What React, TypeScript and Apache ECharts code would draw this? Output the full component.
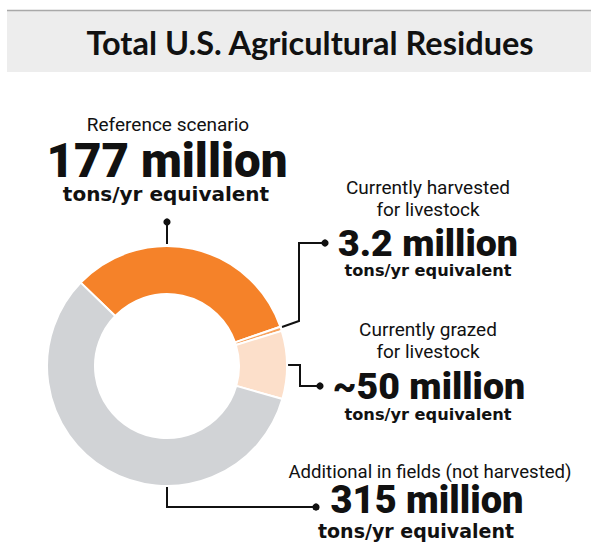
import React, { useEffect, useRef } from "react";
import * as echarts from "echarts";

const categories = [
  "Reference scenario",
  "Currently harvested for livestock",
  "Currently grazed for livestock",
  "Additional in fields (not harvested)",
];
const values = [177, 3.2, 50, 315];
const valueLabels = ["177 million", "3.2 million", "~50 million", "315 million"];
const unitLabel = "tons/yr equivalent";
const titleText = "Total U.S. Agricultural Residues";
const colors = ["#F58229", "#F6A25E", "#FCDFCA", "#D1D3D6"];

const CX = 167;
const CY = 366;
const R_OUT = 120;
const R_IN = 72;

const INK = "#111111";
const NUM_FONT = "Roboto";
const TXT_FONT = "Roboto";
const UNIT_FONT = "DejaVu Sans";

function txt(x: number, y: number, text: string, size: number, weight: any, family: string) {
  return {
    type: "text",
    x,
    y,
    silent: true,
    style: {
      text,
      fill: INK,
      fontSize: size,
      fontWeight: weight,
      fontFamily: family,
      lineHeight: Math.round(size * 0.85),
      align: "center",
      verticalAlign: "middle",
    },
  };
}

function leader(points: number[][], dot: number[]) {
  return [
    {
      type: "polyline",
      silent: true,
      shape: { points },
      style: { stroke: INK, lineWidth: 2, fill: "none" },
    },
    {
      type: "circle",
      silent: true,
      shape: { cx: dot[0], cy: dot[1], r: 3.6 },
      style: { fill: INK },
    },
  ];
}

export default function App() {
  const ref = useRef<HTMLDivElement>(null);
  useEffect(() => {
    if (!ref.current) return;
    const chart = echarts.init(ref.current, null, { renderer: "svg" });
    const h = ["Currently harvested", "for livestock"];
    const g = ["Currently grazed", "for livestock"];
    chart.setOption({
      animation: false,
      backgroundColor: "#ffffff",
      series: [
        {
          type: "pie",
          center: [CX, CY],
          radius: [R_IN, R_OUT],
          startAngle: 136,
          clockwise: true,
          silent: true,
          label: { show: false },
          labelLine: { show: false },
          itemStyle: { borderColor: "#ffffff", borderWidth: 2 },
          data: categories.map((c, i) => ({
            name: c,
            value: values[i],
            itemStyle: { color: colors[i] },
          })),
        },
      ],
      graphic: [
        {
          type: "rect",
          silent: true,
          shape: { x: 7, y: 11, width: 584, height: 61 },
          style: { fill: "#EDEDED" },
        },
        {
          type: "line",
          silent: true,
          shape: { x1: 7, y1: 10.5, x2: 591, y2: 10.5 },
          style: { stroke: "#A9A9A9", lineWidth: 1.5 },
        },
        txt(310, 42, titleText, 32.5, 700, "Lato"),
        txt(168, 124, categories[0], 19, 400, TXT_FONT),
        txt(167, 161, valueLabels[0], 47.5, 900, NUM_FONT),
        txt(166, 194, unitLabel, 20, 700, UNIT_FONT),
        ...leader([[CX, CY - R_OUT - 2], [CX, 222]], [CX, 222]),

        txt(428, 187, h[0], 19, 400, TXT_FONT),
        txt(428, 209, h[1], 19, 400, TXT_FONT),
        txt(428, 243, valueLabels[1], 37.5, 900, NUM_FONT),
        txt(428, 270, unitLabel, 16.2, 700, UNIT_FONT),
        ...leader([[282, 327], [299, 321], [299, 243], [322, 243]], [325, 243]),

        txt(428, 329, g[0], 19, 400, TXT_FONT),
        txt(428, 351, g[1], 19, 400, TXT_FONT),
        txt(429, 386, valueLabels[2], 37.5, 900, NUM_FONT),
        txt(428, 414, unitLabel, 16.2, 700, UNIT_FONT),
        ...leader([[288, 365], [300, 365], [300, 386], [318, 386]], [320, 386]),

        txt(430, 472, categories[3], 18.6, 400, TXT_FONT),
        txt(427, 500, valueLabels[3], 38, 900, NUM_FONT),
        txt(416, 531, unitLabel, 19, 700, UNIT_FONT),
        ...leader([[CX, CY + R_OUT + 1], [CX, 507], [313, 507]], [316, 507]),
      ],
    });
    return () => chart.dispose();
  }, []);
  return (
    <div
      ref={ref}
      style={{ position: "fixed", left: 0, top: 0, width: 591, height: 546, background: "#fff" }}
    />
  );
}
